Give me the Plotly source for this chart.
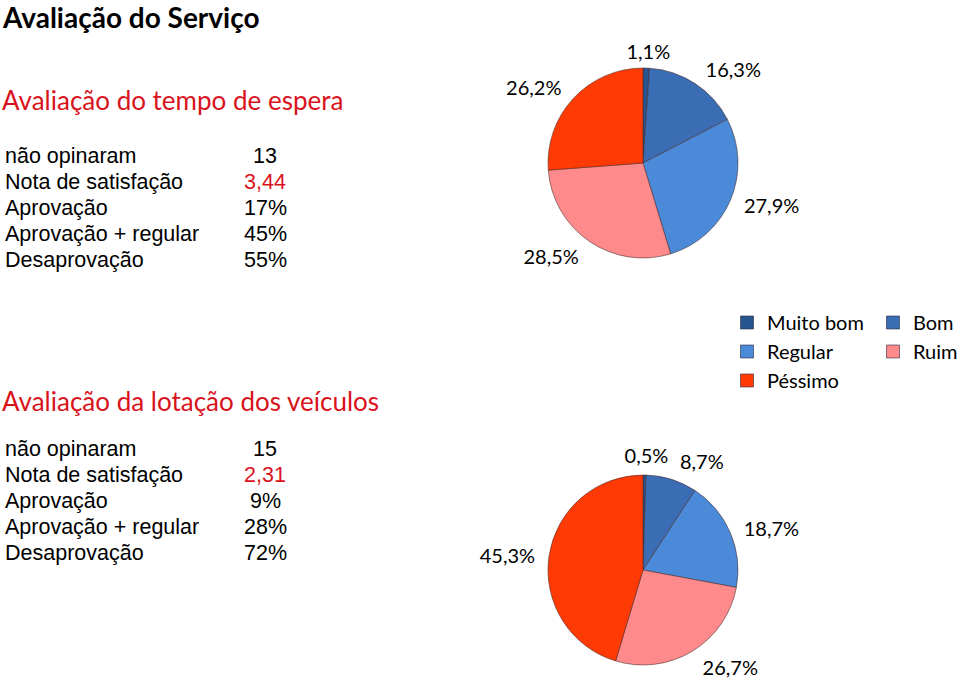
import plotly.graph_objects as go

# ---------------- data ----------------
categories = ["Muito bom", "Bom", "Regular", "Ruim", "Péssimo"]
espera_values = [1.1, 16.3, 27.9, 28.5, 26.2]
lotacao_values = [0.5, 8.7, 18.7, 26.7, 45.3]

metric_names = ["não opinaram", "Nota de satisfação", "Aprovação",
                "Aprovação + regular", "Desaprovação"]
espera_metrics = ["13", "3,44", "17%", "45%", "55%"]
lotacao_metrics = ["15", "2,31", "9%", "28%", "72%"]

main_title = "Avaliação do Serviço"
espera_title = "Avaliação do tempo de espera"
lotacao_title = "Avaliação da lotação dos veículos"

colors = ["#27558f", "#3a6db3", "#4a8ad8", "#ff8a8c", "#ff3a05"]
# legend column for each category (two-column legend like the original)
legend_of = ["legend", "legend2", "legend", "legend2", "legend"]

# ---------------- layout helpers ----------------
W, H = 959, 682


def px(x):
    return x / W


def py(y):
    return 1 - y / H


def dom(cx, cy, r):
    return dict(x=[px(cx - r), px(cx + r)], y=[py(cy + r), py(cy - r)])


def pct(v):
    return f"{v:.1f}%".replace(".", ",")


CAL = "Lato, Carlito, sans-serif"
TXT = "Liberation Sans, Arial, sans-serif"
LBL_FONT = dict(family=CAL, size=20, color="black")

fig = go.Figure()

charts = [(espera_values, 163, 100), (lotacao_values, 570, 103)]

for vals, cy, _ in charts:
    fig.add_trace(go.Pie(
        labels=categories, values=vals, sort=False, direction="clockwise",
        rotation=0, domain=dom(643, cy, 95), textinfo="none",
        marker=dict(colors=colors, line=dict(color="rgba(70,40,40,0.55)", width=1)),
        showlegend=False, hoverinfo="label+percent",
    ))

# percentage labels: transparent pies carrying only the outside texts
for vals, cy, r_small in charts:
    big = [pct(v) if i > 0 else "" for i, v in enumerate(vals)]
    small = [pct(v) if i == 0 else "" for i, v in enumerate(vals)]
    for txt, cx, r in [(big, 643, 103), (small, 617, r_small)]:
        fig.add_trace(go.Pie(
            labels=categories, values=vals, sort=False, direction="clockwise",
            rotation=0, domain=dom(cx, cy, r), textposition="outside",
            text=txt, textinfo="text", outsidetextfont=LBL_FONT,
            marker=dict(colors=["rgba(0,0,0,0)"] * 5, line=dict(width=0)),
            showlegend=False, hoverinfo="skip",
        ))

# legend entries (no data points, only legend swatches)
for name, col, lg in zip(categories, colors, legend_of):
    fig.add_trace(go.Scatter(
        x=[None], y=[None], mode="markers", name=name, legend=lg,
        marker=dict(symbol="square", size=13, color=col,
                    line=dict(color="rgba(40,40,60,0.6)", width=1)),
        showlegend=True, hoverinfo="skip",
    ))

annotations = []


def add_text(x, y, text, size, color="black", family=TXT, xanchor="left", bold=False):
    if bold:
        text = "<b>" + text + "</b>"
    annotations.append(dict(
        x=px(x), y=py(y), xref="paper", yref="paper", text=text, showarrow=False,
        xanchor=xanchor, yanchor="middle", font=dict(family=family, size=size, color=color),
    ))


add_text(0, 17, main_title, 28, family=CAL, bold=True)
add_text(0, 100, espera_title, 26, color="#d9131c", family=CAL)
add_text(0, 401, lotacao_title, 26, color="#d9131c", family=CAL)

for block, y0 in [(espera_metrics, 156), (lotacao_metrics, 449)]:
    for i, (name, val) in enumerate(zip(metric_names, block)):
        y = y0 + i * 25.9
        add_text(3, y, name, 21.5)
        add_text(265, y, val, 21.5, color="#d9131c" if i == 1 else "black", xanchor="center")

LEG_FONT = dict(family=CAL, size=20, color="black")
fig.update_layout(
    width=W, height=H,
    margin=dict(l=0, r=0, t=0, b=0, autoexpand=False),
    paper_bgcolor="white", plot_bgcolor="white",
    separators=",.",
    annotations=annotations,
    xaxis=dict(visible=False), yaxis=dict(visible=False),
    legend=dict(x=px(727), y=py(303), xanchor="left", yanchor="top",
                font=LEG_FONT, bgcolor="rgba(0,0,0,0)", tracegroupgap=0),
    legend2=dict(x=px(873), y=py(303), xanchor="left", yanchor="top",
                 font=LEG_FONT, bgcolor="rgba(0,0,0,0)", tracegroupgap=0),
)

fig.write_html(
    "out.html",
    config={"displayModeBar": False},
    post_script="document.body.style.margin='0';document.body.style.overflow='hidden';",
)
